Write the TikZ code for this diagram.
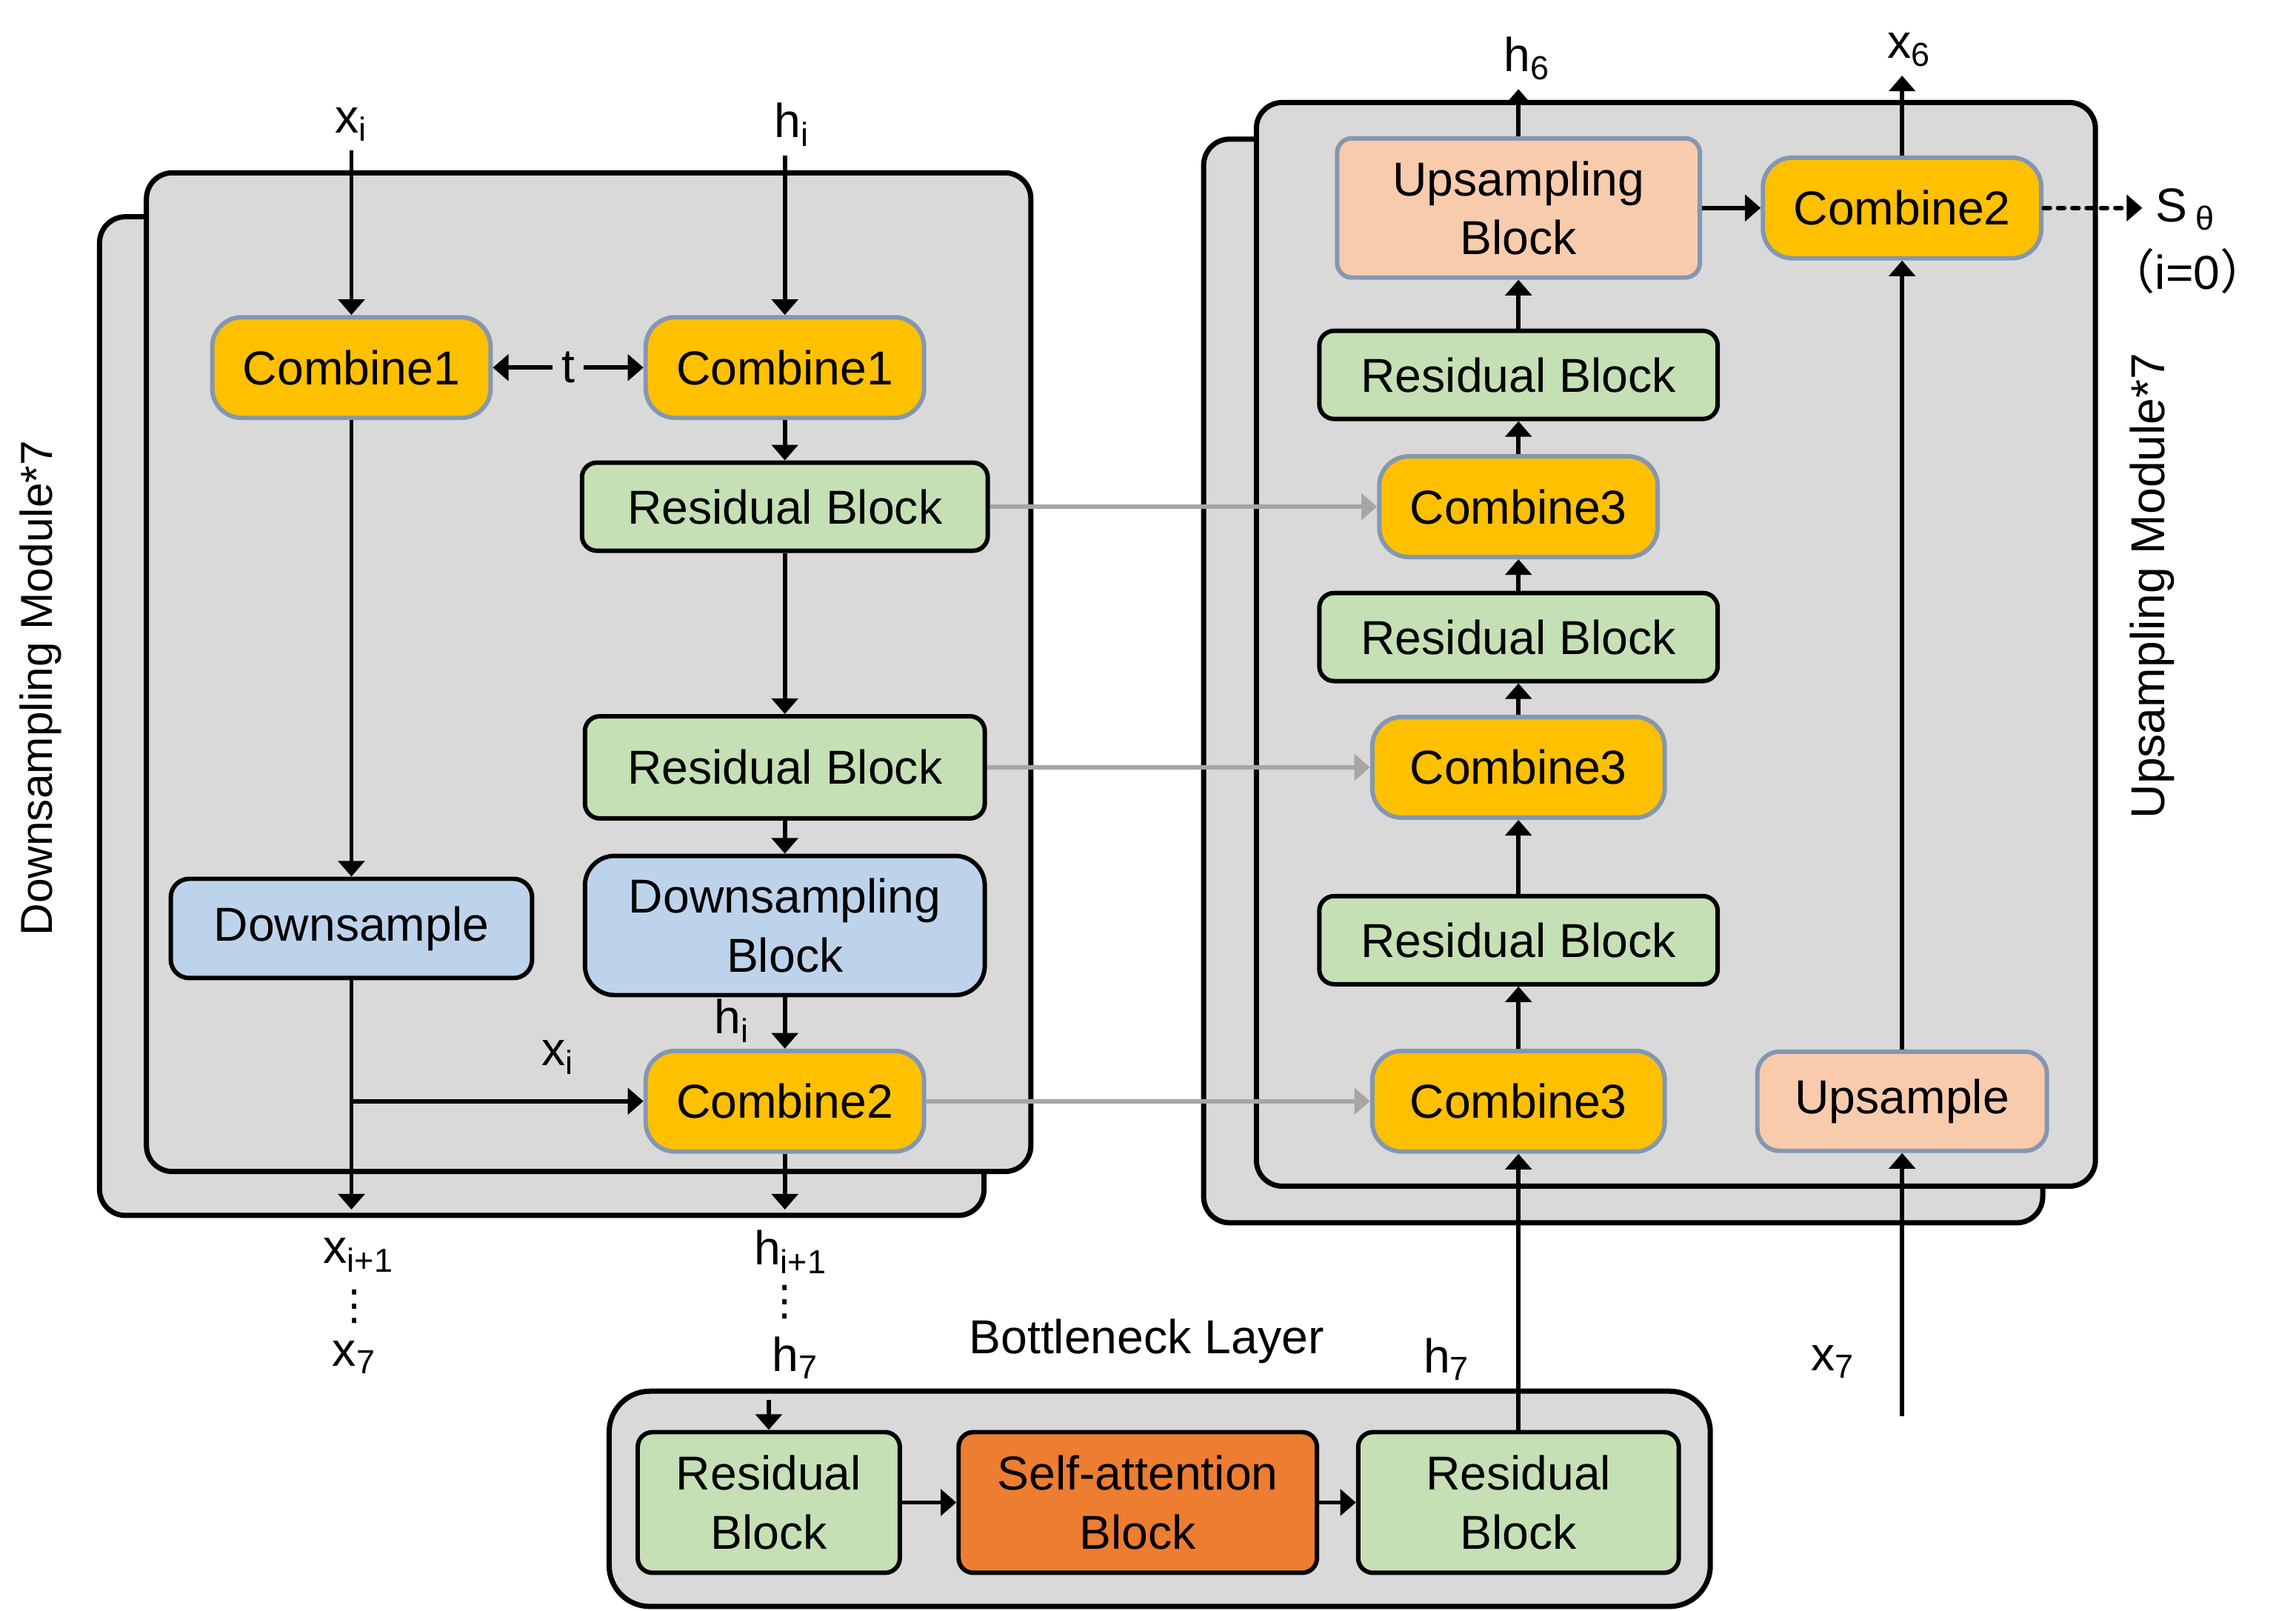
\documentclass[tikz,border=0pt]{standalone}
\usepackage{fontspec}
\setmainfont{Liberation Sans}
\newfontfamily\cjkfont{Noto Sans CJK SC}
\newfontfamily\symfont{DejaVu Sans}
\usetikzlibrary{arrows.meta}
\definecolor{panelgray}{HTML}{D9D9D9}
\definecolor{combyellow}{HTML}{FFC000}
\definecolor{combedge}{HTML}{8497B0}
\definecolor{resgreen}{HTML}{C5E0B4}
\definecolor{downblue}{HTML}{BDD3EC}
\definecolor{upsalmon}{HTML}{F8CBAD}
\definecolor{attorange}{HTML}{ED7D31}
\definecolor{skipgray}{HTML}{A6A6A6}
\newcommand{\dgfont}{\fontsize{18.3}{22.5}\selectfont}
\tikzset{every node/.style={font=\dgfont},
  panel/.style={draw, line width=2pt, fill=panelgray, rounded corners=0.35cm},
  blk/.style={rectangle, line width=1.7pt, align=center, inner sep=0pt},
  comb/.style={blk, draw=combedge, fill=combyellow, rounded corners=0.4cm, minimum height=1.36cm},
  resblk/.style={blk, draw=black, fill=resgreen, rounded corners=0.2cm},
  downblk/.style={blk, draw=black, fill=downblue, rounded corners=0.4cm},
  upblk/.style={blk, draw=combedge, fill=upsalmon, rounded corners=0.2cm},
  attblk/.style={blk, draw=black, fill=attorange, rounded corners=0.2cm},
  vdotlbl/.style={inner sep=0pt, font=\symfont\fontsize{16}{16}\selectfont},
  arr/.style={-{Triangle[length=6pt,width=10pt]}, line width=1.6pt},
  garr/.style={arr, skipgray}}

\begin{document}
\begin{tikzpicture}[x=0.01977cm, y=-0.01977cm]
  \useasboundingbox (0,0) rectangle (1568,1100);
  % stacked module panels
  \draw[panel] (68,148) rectangle (672,830);
  \draw[panel] (100,118) rectangle (704,800);
  \draw[panel] (822,95) rectangle (1395,835);
  \draw[panel] (858,70) rectangle (1431,810);
  \draw[panel, rounded corners=0.55cm] (416,950) rectangle (1168,1097);
  \node[rotate=90, font=\fontsize{17.2}{20}\selectfont] (downtitle) at (28,470) {Downsampling Module*7};
  \node[rotate=90] (uptitle) at (1470,400) {Upsampling Module*7};

  % downsampling module
  \node[comb, minimum width=3.76cm] (cbx) at (240,251) {Combine1};
  \node[comb, minimum width=3.76cm] (cbh) at (536,251) {Combine1};
  \node (tin) at (388,251) {t};
  \node[resblk, minimum width=5.48cm, minimum height=1.19cm] (rbd1) at (536,346) {Residual Block};
  \node[resblk, minimum width=5.4cm, minimum height=1.38cm] (rbd2) at (536,524) {Residual Block};
  \node[downblk, minimum width=5.4cm, minimum height=1.88cm] (dsblock) at (536,632) {Downsampling\\Block};
  \node[downblk, rounded corners=0.25cm, minimum width=4.88cm, minimum height=1.34cm] (dsx) at (240,634) {Downsample};
  \node[comb, minimum width=3.76cm] (cbd) at (536,752) {Combine2};
  \node (xin) at (240,85) {x\textsubscript{i}};
  \node (hin) at (541,85) {h\textsubscript{i}};
  \draw[arr] (xin.south -| cbx) -- (cbx);
  \draw[arr] (hin.south -| cbh) -- (cbh);
  \draw[arr] (tin) -- (cbx);
  \draw[arr] (tin) -- (cbh);
  \draw[arr] (cbh) -- (rbd1);
  \draw[arr] (rbd1) -- (rbd2);
  \draw[arr] (rbd2) -- (dsblock);
  \draw[arr] (dsblock) -- (cbd);
  \draw[arr] (cbx) -- (dsx);
  \coordinate (xbranch) at (240,752);
  \coordinate (xnext) at (240,826);
  \coordinate (hnext) at (536,826);
  \draw[arr] (dsx) -- (xnext);
  \draw[arr] (xbranch) -- (cbd);
  \draw[arr] (cbd) -- (hnext);
  \node (hilbl) at (500,697) {h\textsubscript{i}};
  \node (xilbl) at (381,722) {x\textsubscript{i}};
  \node (xnlbl) at (245,857) {x\textsubscript{i+1}};
  \node (hnlbl) at (540,855) {h\textsubscript{i+1}};
  \node[vdotlbl] (xdots) at (242,892) {⋮};
  \node[vdotlbl] (hdots) at (536,889) {⋮};
  \node (xlast) at (242,927) {x\textsubscript{7}};
  \node (hlast) at (543,927) {h\textsubscript{7}};

  % bottleneck
  \node (bneck) at (783,916) {Bottleneck Layer};
  \node[resblk, minimum width=3.54cm, minimum height=1.9cm] (rbb1) at (525,1026) {Residual\\Block};
  \node[attblk, minimum width=4.84cm, minimum height=1.9cm] (attn) at (777,1026) {Self-attention\\Block};
  \node[resblk, minimum width=4.33cm, minimum height=1.9cm] (rbb2) at (1037,1026) {Residual\\Block};
  \coordinate (bin) at (525,956);
  \draw[arr] (bin) -- (rbb1);
  \draw[arr] (rbb1) -- (attn);
  \draw[arr] (attn) -- (rbb2);
  \node (hbot) at (988,928) {h\textsubscript{7}};

  % upsampling module
  \node[upblk, minimum width=4.9cm, minimum height=1.88cm] (usblock) at (1037,142) {Upsampling\\Block};
  \node[comb, minimum width=3.76cm] (cbu) at (1299,142) {Combine2};
  \node[resblk, minimum width=5.38cm, minimum height=1.19cm] (rbu1) at (1037,256) {Residual Block};
  \node[comb, minimum width=3.76cm] (cr1) at (1037,346) {Combine3};
  \node[resblk, minimum width=5.38cm, minimum height=1.19cm] (rbu2) at (1037,435) {Residual Block};
  \node[comb, minimum width=3.95cm] (cr2) at (1037,524) {Combine3};
  \node[resblk, minimum width=5.38cm, minimum height=1.19cm] (rbu3) at (1037,642) {Residual Block};
  \node[comb, minimum width=3.95cm] (cr3) at (1037,752) {Combine3};
  \node[upblk, rounded corners=0.3cm, minimum width=3.91cm, minimum height=1.34cm] (usx) at (1299,752) {Upsample};
  \draw[arr] (rbb2) -- (cr3);
  \draw[arr] (cr3) -- (rbu3);
  \draw[arr] (rbu3) -- (cr2);
  \draw[arr] (cr2) -- (rbu2);
  \draw[arr] (rbu2) -- (cr1);
  \draw[arr] (cr1) -- (rbu1);
  \draw[arr] (rbu1) -- (usblock);
  \draw[arr] (usblock) -- (cbu);
  \draw[arr] (usx) -- (cbu);
  \coordinate (xbot) at (1299,967);
  \draw[arr] (xbot) -- (usx);
  \node (xbotlbl) at (1252,930) {x\textsubscript{7}};
  \node (hsix) at (1043,40) {h\textsubscript{6}};
  \node (xsix) at (1304,34) {x\textsubscript{6}};
  \draw[arr] (usblock) -- (usblock |- hsix.south);
  \draw[arr] (cbu) -- (cbu |- xsix.south);
  \coordinate (sout) at (1463,142);
  \draw[arr, line cap=round, dash pattern=on 2.5pt off 3pt] (cbu) -- (sout);
  \node[anchor=west] (stheta) at (1466,143) {S\,\textsubscript{θ}};
  \node (izero) at (1494,185) {{\cjkfont （}i=0{\cjkfont ）}};

  % skip connections
  \draw[garr] (rbd1) -- (cr1);
  \draw[garr] (rbd2) -- (cr2);
  \draw[garr] (cbd) -- (cr3);
\end{tikzpicture}
\end{document}
